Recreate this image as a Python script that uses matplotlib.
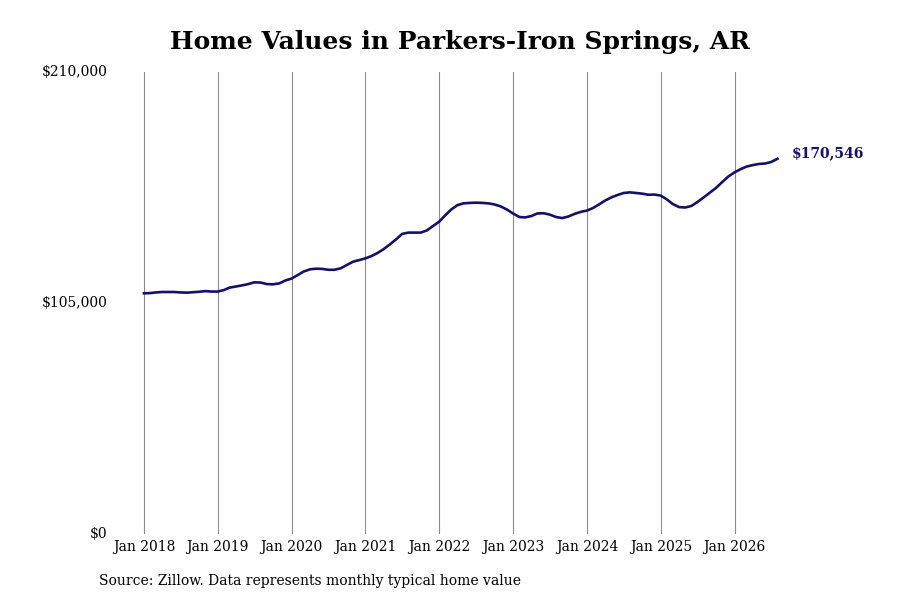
import pandas as pd
import matplotlib.pyplot as plt
import matplotlib.dates as mdates

# monthly typical home value, Jan 2018 - Aug 2026
start_month = "2018-01-01"
values = [
    109400, 109500, 109800, 110000, 110000, 110000, 109800, 109700, 109900, 110100, 110400, 110200,
    110200, 110900, 112000, 112500, 113000, 113600, 114400, 114300, 113600, 113500, 113900, 115200,
    116100, 117700, 119300, 120300, 120600, 120500, 120100, 120100, 120800, 122300, 123800, 124500,
    125300, 126400, 127700, 129500, 131600, 133900, 136400, 137000, 137000, 137000, 138000, 140000,
    142000, 145000, 147500, 149500, 150300, 150500, 150600, 150500, 150300, 149800, 148900, 147500,
    145700, 144100, 143900, 144500, 145700, 145800, 145200, 144100, 143600, 144300, 145500, 146400,
    147000, 148200, 149800, 151600, 153000, 154100, 155000, 155300, 155000, 154700, 154200, 154300,
    153800, 152000, 150000, 148600, 148400, 149100, 150900, 153000, 155200, 157300, 160000, 162500,
    164400, 165900, 167000, 167700, 168200, 168400, 169100, 170546,
]
y_ticks = [0, 105000, 210000]
y_labels = ["$0", "$105,000", "$210,000"]
last_label = "$170,546"

title = "Home Values in Parkers-Iron Springs, AR"
source = "Source: Zillow. Data represents monthly typical home value"

line_color = "#12126b"

dates = pd.date_range(start_month, periods=len(values), freq="MS")

plt.rcParams["font.family"] = ["DejaVu Serif"]

fig = plt.figure(figsize=(9, 6), dpi=100)
ax = fig.add_axes([112 / 900, 66 / 600, (790 - 112) / 900, 462 / 600])

ax.plot(dates, values, color=line_color, linewidth=1.9)

# value label at the last point
ax.annotate(last_label, (dates[-1], values[-1]), xytext=(10, 4), textcoords="offset points",
            ha="left", va="center", fontsize=10, fontweight="bold", color=line_color)

t0 = pd.Timestamp(start_month)
ax.set_xlim(t0 - pd.Timedelta(days=158), t0 + pd.Timedelta(days=3196))
ax.set_ylim(0, 210000)

ax.xaxis.set_major_locator(mdates.YearLocator())
ax.xaxis.set_major_formatter(mdates.DateFormatter("Jan %Y"))
ax.set_yticks(y_ticks)
ax.set_yticklabels(y_labels)

ax.grid(axis="x", color="#8c8c8c", linewidth=0.8)
ax.grid(axis="y", visible=False)
for s in ax.spines.values():
    s.set_visible(False)
ax.tick_params(axis="both", length=0, labelsize=10)
ax.tick_params(axis="x", pad=4)
ax.tick_params(axis="y", pad=3)
for lab in ax.get_yticklabels():
    lab.set_verticalalignment("center")

fig.text(460 / 900, 1 - 42 / 600, title, ha="center", va="center", fontsize=18, fontweight="bold")
fig.text(99 / 900, 1 - 581 / 600, source, ha="left", va="center", fontsize=10)

fig.savefig("out.png", dpi=100)
